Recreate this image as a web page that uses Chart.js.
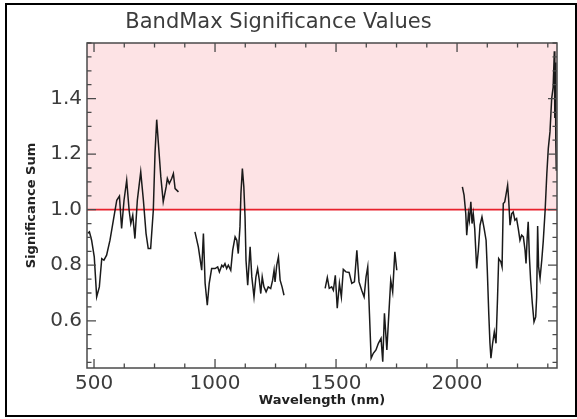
<!DOCTYPE html>
<html><head><meta charset="utf-8">
<script src="https://cdn.jsdelivr.net/npm/chart.js@4/dist/chart.umd.min.js"></script>
<style>html,body{margin:0;padding:0;background:#fff;}</style>
</head><body>
<canvas id="c" width="577" height="419"></canvas>
<script>
// ---- data ----
const seg1Wavelength = [474,481,490,501,511,522,532,541,552,566,580,594,605,614,624,635,645,652,660,669,679,693,704,715,724,734,745,752,759,766,776,786,798,803,811,821,828,835,849];
const seg1Value = [0.915,0.92,0.89,0.83,0.686,0.722,0.824,0.818,0.836,0.89,0.962,1.034,1.049,0.932,1.034,1.106,0.998,0.95,0.98,0.896,1.034,1.136,1.034,0.914,0.86,0.86,0.998,1.202,1.324,1.238,1.118,1.028,1.082,1.112,1.094,1.112,1.13,1.076,1.064];
const seg2Wavelength = [917,931,945,952,959,968,976,986,1000,1011,1018,1028,1034,1041,1048,1055,1065,1073,1083,1090,1096,1103,1107,1113,1119,1124,1128,1135,1145,1152,1161,1169,1176,1183,1189,1195,1202,1211,1220,1230,1238,1244,1248,1255,1262,1269,1277,1285];
const seg2Value = [0.92,0.866,0.782,0.914,0.735,0.656,0.735,0.788,0.788,0.794,0.776,0.8,0.794,0.806,0.788,0.8,0.782,0.854,0.902,0.89,0.842,0.938,1.058,1.148,1.082,0.974,0.818,0.728,0.866,0.758,0.686,0.758,0.788,0.746,0.698,0.758,0.722,0.704,0.722,0.716,0.746,0.782,0.74,0.8,0.83,0.746,0.722,0.692];
const seg3Wavelength = [1455,1464,1472,1482,1489,1497,1505,1514,1522,1530,1541,1554,1565,1576,1586,1595,1606,1616,1624,1631,1638,1645,1654,1665,1675,1686,1693,1700,1710,1716,1726,1734,1743,1751];
const seg3Value = [0.717,0.756,0.717,0.722,0.71,0.764,0.645,0.735,0.686,0.785,0.776,0.774,0.735,0.74,0.854,0.74,0.71,0.686,0.758,0.794,0.627,0.465,0.483,0.495,0.519,0.537,0.453,0.627,0.495,0.591,0.746,0.704,0.848,0.782];
const seg4Wavelength = [2022,2029,2036,2040,2047,2051,2057,2062,2067,2073,2081,2088,2095,2103,2112,2120,2125,2131,2136,2140,2147,2154,2161,2167,2172,2181,2186,2191,2197,2202,2209,2213,2219,2226,2232,2239,2246,2253,2260,2267,2274,2281,2285,2290,2294,2299,2304,2311,2318,2325,2329,2333,2337,2343,2350,2356,2364,2371,2377,2384,2391,2397,2402,2404,2406,2408,2410];
const seg4Value = [1.082,1.052,0.986,0.908,0.986,0.962,1.028,0.95,0.986,0.932,0.788,0.854,0.944,0.974,0.932,0.89,0.782,0.627,0.519,0.465,0.519,0.56,0.519,0.674,0.824,0.812,0.794,1.022,1.028,1.052,1.088,1.04,0.944,0.986,0.992,0.962,0.968,0.932,0.89,0.908,0.902,0.854,0.806,0.902,0.956,0.83,0.746,0.663,0.596,0.614,0.686,0.941,0.794,0.753,0.818,0.884,0.998,1.13,1.22,1.28,1.40,1.44,1.57,1.33,1.53,1.25,1.14];
const threshold = 1.0;
const xTickLabels = [500, 1000, 1500, 2000];
const yTickLabels = [0.6, 0.8, 1.0, 1.2, 1.4];
const xMin = 471, xMax = 2413, yMin = 0.43, yMax = 1.6;
const xMinorStep = 125, yMinorStep = 0.05;

// ---- build points, null between bands ----
const segments = [[seg1Wavelength, seg1Value],[seg2Wavelength, seg2Value],[seg3Wavelength, seg3Value],[seg4Wavelength, seg4Value]];
const points = [];
segments.forEach((s, i) => {
  if (i > 0) points.push({x: (s[0][0] + points[points.length-1].x) / 2, y: null});
  s[0].forEach((w, j) => points.push({x: w, y: s[1][j]}));
});

const AXIS = '#4a4a4a';
const TEXT = '#3c3c3c';

const frameTicks = {
  id: 'frameTicks',
  afterDatasetsDraw(chart) {
    const {ctx, chartArea: a, scales: {x, y}} = chart;
    ctx.save();
    ctx.strokeStyle = AXIS; ctx.lineWidth = 1.3;
    ctx.beginPath();
    for (let v = 500; v <= xMax; v += xMinorStep) {
      const px = x.getPixelForValue(v);
      const len = xTickLabels.includes(v) ? 9 : 4.5;
      ctx.moveTo(px, a.bottom); ctx.lineTo(px, a.bottom - len);
      ctx.moveTo(px, a.top); ctx.lineTo(px, a.top + len);
    }
    for (let k = 9; k * yMinorStep <= yMax; k++) {
      const v = Math.round(k * yMinorStep * 100) / 100;
      const py = y.getPixelForValue(v);
      const len = yTickLabels.some(t => Math.abs(t - v) < 1e-6) ? 9 : 4.5;
      ctx.moveTo(a.left, py); ctx.lineTo(a.left + len, py);
      ctx.moveTo(a.right, py); ctx.lineTo(a.right - len, py);
    }
    ctx.stroke();
    ctx.lineWidth = 1.5;
    ctx.strokeRect(a.left, a.top, a.right - a.left, a.bottom - a.top);
    ctx.restore();
  },
  afterDraw(chart) {
    const ctx = chart.ctx;
    ctx.save();
    ctx.strokeStyle = '#000'; ctx.lineWidth = 2;
    ctx.strokeRect(6, 4, 570, 412);
    ctx.restore();
  }
};

new Chart(document.getElementById('c'), {
  type: 'line',
  data: {
    datasets: [
      { data: points, borderColor: '#1a1a1a', borderWidth: 1.5, pointRadius: 0, spanGaps: false, tension: 0, fill: false },
      { data: [{x: xMin, y: threshold}, {x: xMax, y: threshold}], borderColor: '#e8212c', borderWidth: 1.6,
        pointRadius: 0, fill: 'end', backgroundColor: '#fde3e5' }
    ]
  },
  options: {
    responsive: false, animation: false, devicePixelRatio: 1,
    layout: { padding: { left: 0, right: 20, top: 0, bottom: 0 } },
    plugins: {
      legend: { display: false }, tooltip: { enabled: false },
      title: { display: true, text: 'BandMax Significance Values', color: TEXT,
        font: { family: 'DejaVu Sans', size: 21, weight: 'normal', lineHeight: 1 }, padding: { top: 12, bottom: 10 } }
    },
    scales: {
      x: {
        type: 'linear', min: xMin, max: xMax,
        afterBuildTicks: s => { s.ticks = xTickLabels.map(v => ({value: v})); },
        afterFit: s => { s.height = 51; },
        grid: { display: false, drawTicks: false }, border: { display: false },
        ticks: { autoSkip: false, maxRotation: 0, padding: 4, color: TEXT, font: { family: 'DejaVu Sans', size: 20 }, callback: v => String(v) },
        title: { display: true, text: 'Wavelength (nm)', color: '#222', font: { family: 'DejaVu Sans', size: 13, weight: 'bold', lineHeight: 1.2 }, padding: { top: 0, bottom: 11 } }
      },
      y: {
        type: 'linear', min: yMin, max: yMax,
        afterBuildTicks: s => { s.ticks = yTickLabels.map(v => ({value: v})); },
        afterFit: s => { s.width = 87; },
        grid: { display: false, drawTicks: false }, border: { display: false },
        ticks: { autoSkip: false, padding: 5, color: TEXT, font: { family: 'DejaVu Sans', size: 20 }, callback: v => v.toFixed(1) },
        title: { display: true, text: 'Significance Sum', color: '#222', font: { family: 'DejaVu Sans', size: 13, weight: 'bold', lineHeight: 1.2 }, padding: { top: 24, bottom: 0 } }
      }
    }
  },
  plugins: [frameTicks]
});
</script>
</body></html>
